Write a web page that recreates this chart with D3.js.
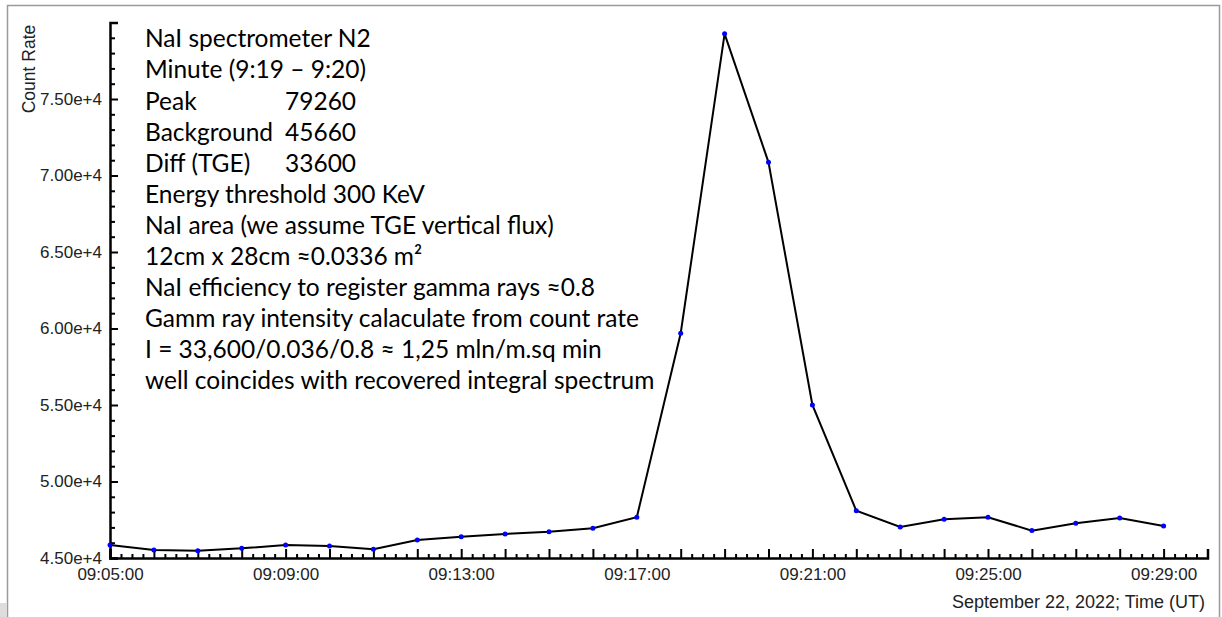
<!DOCTYPE html>
<html>
<head>
<meta charset="utf-8">
<script src="https://cdn.jsdelivr.net/npm/d3@7"></script>
<style>
  body { margin: 0; background: #fff; }
  svg { display: block; }
  .axis text { font-family: "Liberation Sans", Arial, sans-serif; font-size: 17px; fill: #222; }
  .note { font-family: Lato, "Open Sans", sans-serif; font-size: 24.5px; fill: #000; }
</style>
</head>
<body>
<svg id="chart" width="1222" height="617"></svg>
<script>
const times = ['09:05', '09:06', '09:07', '09:08', '09:09', '09:10', '09:11', '09:12', '09:13',
  '09:14', '09:15', '09:16', '09:17', '09:18', '09:19', '09:20', '09:21', '09:22', '09:23',
  '09:24', '09:25', '09:26', '09:27', '09:28', '09:29'];
const counts = [45850, 45520, 45480, 45630, 45850, 45780, 45570, 46180, 46390,
  46570, 46720, 46940, 47660, 59690, 79260, 70860, 55000, 48090, 47030,
  47530, 47660, 46790, 47270, 47610, 47090];
const yMajorTicks = [45000, 50000, 55000, 60000, 65000, 70000, 75000, 80000];
const xLabelTicks = ['09:05', '09:09', '09:13', '09:17', '09:21', '09:25', '09:29'];
const noteLines = [
  ['NaI spectrometer N2', ''],
  ['Minute (9:19 \u2013 9:20)', ''],
  ['Peak', '79260'],
  ['Background', '45660'],
  ['Diff (TGE)', '33600'],
  ['Energy threshold 300 KeV', ''],
  ['NaI area (we assume TGE vertical flux)', ''],
  ['12cm x 28cm \u22480.0336 m\u00b2', ''],
  ['NaI efficiency to register gamma rays \u22480.8', ''],
  ['Gamm ray intensity calaculate from count rate', ''],
  ['I = 33,600/0.036/0.8 \u2248 1,25 mln/m.sq min', ''],
  ['well coincides with recovered integral spectrum', '']
];
const yTitle = 'Count Rate';
const xTitle = 'September 22, 2022; Time (UT)';

const toDate = t => new Date(`2022-09-22T${t}:00Z`);
const data = times.map((t, i) => ({ t: toDate(t), v: counts[i] }));

const svg = d3.select('#chart');

// outer frame like the screenshot
svg.append('rect').attr('x', 7.5).attr('y', 5.5).attr('width', 1212).attr('height', 640)
  .attr('fill', 'none').attr('stroke', '#9a9a9a').attr('stroke-width', 1.5);
svg.append('rect').attr('x', 0).attr('y', 603).attr('width', 7).attr('height', 14).attr('fill', '#ddd');

const x = d3.scaleUtc()
  .domain([toDate('09:05'), toDate('09:30')])
  .range([110, 1207.5]);
const y = d3.scaleLinear()
  .domain([45000, 80000])
  .range([558, 22.5]);

const fmtY = v => (v / 1e4).toFixed(2) + 'e+4';

// y axis: minor ticks, then major with labels
const yMinor = d3.range(45000, 80001, 1000).filter(v => v % 5000 !== 0);
svg.append('g').attr('class', 'axis').attr('transform', 'translate(110,0)')
  .call(d3.axisLeft(y).tickValues(yMinor).tickSize(-5).tickFormat(''))
  .call(g => g.select('.domain').remove())
  .call(g => g.selectAll('line').attr('stroke', '#000').attr('stroke-width', 2));
svg.append('g').attr('class', 'axis').attr('transform', 'translate(110,0)')
  .call(d3.axisLeft(y).tickValues(yMajorTicks).tickSize(-8).tickPadding(8)
    .tickFormat(v => v === 80000 ? '' : fmtY(v)))
  .call(g => g.select('.domain').attr('stroke', '#000').attr('stroke-width', 2.5))
  .call(g => g.selectAll('line').attr('stroke', '#000').attr('stroke-width', 2));

// x axis: 15 s minor ticks, minute major ticks, labels every 4 min
const xMinor = d3.utcSecond.every(15).range(toDate('09:05'), toDate('09:30'))
  .filter(d => d.getUTCSeconds() !== 0);
const xMajor = d3.utcMinute.every(1).range(toDate('09:05'), d3.utcSecond.offset(toDate('09:30'), 1));
const labelSet = new Set(xLabelTicks.map(t => +toDate(t)));
svg.append('g').attr('class', 'axis').attr('transform', 'translate(0,558)')
  .call(d3.axisBottom(x).tickValues(xMinor).tickSize(-4).tickFormat(''))
  .call(g => g.select('.domain').remove())
  .call(g => g.selectAll('line').attr('stroke', '#000').attr('stroke-width', 2));
svg.append('g').attr('class', 'axis').attr('transform', 'translate(0,558)')
  .call(d3.axisBottom(x).tickValues(xMajor).tickSize(-9).tickPadding(5)
    .tickFormat(d => labelSet.has(+d) ? d3.utcFormat('%H:%M:%S')(d) : ''))
  .call(g => g.select('.domain').attr('stroke', '#000').attr('stroke-width', 2.5))
  .call(g => g.selectAll('line').attr('stroke', '#000').attr('stroke-width', 2))
  .call(g => g.selectAll('text').attr('dy', '1em'));

// axis titles
svg.append('text')
  .attr('transform', 'translate(35,69) rotate(-90)')
  .attr('text-anchor', 'middle')
  .style('font-family', '"Liberation Sans", Arial, sans-serif').style('font-size', '17.5px').attr('fill', '#222')
  .text(yTitle);
svg.append('text')
  .attr('x', 1205).attr('y', 608)
  .attr('text-anchor', 'end')
  .style('font-family', '"Liberation Sans", Arial, sans-serif').style('font-size', '18px').attr('fill', '#222')
  .text(xTitle);

// series
svg.append('path').datum(data)
  .attr('fill', 'none').attr('stroke', '#000').attr('stroke-width', 2)
  .attr('d', d3.line().x(d => x(d.t)).y(d => y(d.v)));
svg.append('g').selectAll('circle').data(data).join('circle')
  .attr('cx', d => x(d.t)).attr('cy', d => y(d.v)).attr('r', 2.5)
  .attr('fill', '#0000ff');

// annotation block
const notes = svg.append('g');
noteLines.forEach(([label, value], i) => {
  const by = 47.3 + i * 31.1;
  notes.append('text').attr('class', 'note').attr('x', 145).attr('y', by).text(label);
  if (value) notes.append('text').attr('class', 'note').attr('x', 285).attr('y', by).text(value);
});
</script>
</body>
</html>
